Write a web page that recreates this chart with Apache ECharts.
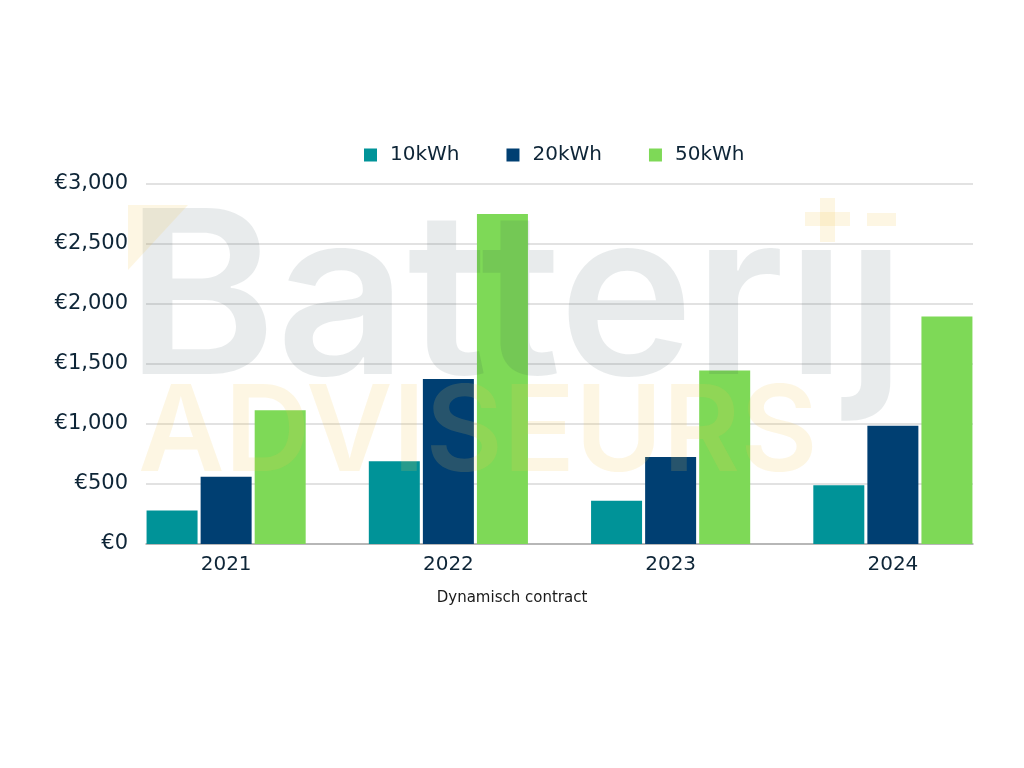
<!DOCTYPE html>
<html>
<head>
<meta charset="utf-8">
<script src="https://cdn.jsdelivr.net/npm/echarts@6/dist/echarts.min.js"></script>
<style>
html,body{margin:0;padding:0;background:#fff;}
#chart{width:1024px;height:768px;}
</style>
</head>
<body>
<div id="chart"></div>
<script>
const categories = ['2021', '2022', '2023', '2024'];
const series10 = [280, 690, 360, 490];
const series20 = [560, 1375, 725, 985];
const series50 = [1115, 2750, 1445, 1895];
const seriesNames = ['10kWh', '20kWh', '50kWh'];
const colors = ['#009398', '#003f72', '#7ed957'];
const yTicks = { min: 0, max: 3000, interval: 500 };

const textColor = '#0e2537';
const font = '"DejaVu Sans", sans-serif';
const wmFont = 'Inter, "DejaVu Sans", sans-serif';
const wmGray = 'rgba(30,55,65,0.1)';
const wmYellow = 'rgba(245,200,80,0.16)';

const chart = echarts.init(document.getElementById('chart'));
const fmt = v => '€' + v.toLocaleString('en-US');

chart.setOption({
  animation: false,
  backgroundColor: '#ffffff',
  color: colors,
  textStyle: { fontFamily: font },
  title: {
    text: 'Dynamisch contract',
    left: 'center',
    top: 586,
    textStyle: { fontSize: 15, fontWeight: 'normal', color: '#1a1a1a', fontFamily: font }
  },
  legend: {
    left: 359,
    top: 140,
    itemWidth: 13,
    itemHeight: 13,
    itemGap: 47,
    icon: 'rect',
    data: seriesNames,
    textStyle: { fontSize: 20, color: textColor, fontFamily: font, padding: [0, 0, 0, 8] }
  },
  grid: [
    { left: 146, right: 51, top: 184, bottom: 224 },
    { left: 115, right: 20, top: 184, bottom: 224 }
  ],
  xAxis: [
    {
      gridIndex: 0, type: 'category', data: categories,
      axisLine: { show: true, lineStyle: { color: '#a9a9a9', width: 1.5 } },
      axisTick: { show: false }, axisLabel: { show: false }
    },
    {
      gridIndex: 1, type: 'category', data: categories,
      axisLine: { show: false }, axisTick: { show: false },
      axisLabel: { fontSize: 20, color: textColor, margin: 11, fontFamily: font }
    }
  ],
  yAxis: [
    {
      gridIndex: 0, type: 'value', min: yTicks.min, max: yTicks.max, interval: yTicks.interval,
      axisLine: { show: false }, axisTick: { show: false },
      axisLabel: { fontSize: 21, color: textColor, margin: 18, formatter: fmt, fontFamily: font, padding: [8, 0, 0, 0] },
      splitLine: { lineStyle: { color: '#d9d9d9', width: 1.5 } }
    },
    {
      gridIndex: 1, type: 'value', min: yTicks.min, max: yTicks.max, interval: yTicks.interval,
      show: false, splitLine: { show: false }
    }
  ],
  series: [
    { name: seriesNames[0], type: 'bar', xAxisIndex: 1, yAxisIndex: 1, data: series10, barWidth: 51, barGap: '6%' },
    { name: seriesNames[1], type: 'bar', xAxisIndex: 1, yAxisIndex: 1, data: series20, barWidth: 51, barGap: '6%' },
    { name: seriesNames[2], type: 'bar', xAxisIndex: 1, yAxisIndex: 1, data: series50, barWidth: 51, barGap: '6%' }
  ],
  graphic: [
    {
      type: 'text', z: 100, silent: true, left: 126, top: 191,
      style: { text: 'Batter\u0131\u0237', fontSize: 228, fontWeight: 600, fontFamily: wmFont, fill: wmGray }
    },
    {
      type: 'text', z: 100, silent: true, left: 138, top: 376,
      style: { text: 'ADVISEURS', fontSize: 119, fontWeight: 600, fontFamily: wmFont, fill: wmYellow }
    },
    {
      type: 'polygon', z: 100, silent: true,
      shape: { points: [[128, 205], [188, 205], [128, 270]] },
      style: { fill: wmYellow }
    },
    { type: 'rect', z: 100, silent: true, shape: { x: 805, y: 212, width: 45, height: 14 }, style: { fill: wmYellow } },
    { type: 'rect', z: 100, silent: true, shape: { x: 820, y: 198, width: 15, height: 44 }, style: { fill: wmYellow } },
    { type: 'rect', z: 100, silent: true, shape: { x: 867, y: 213, width: 29, height: 13 }, style: { fill: wmYellow } }
  ]
});
</script>
</body>
</html>
